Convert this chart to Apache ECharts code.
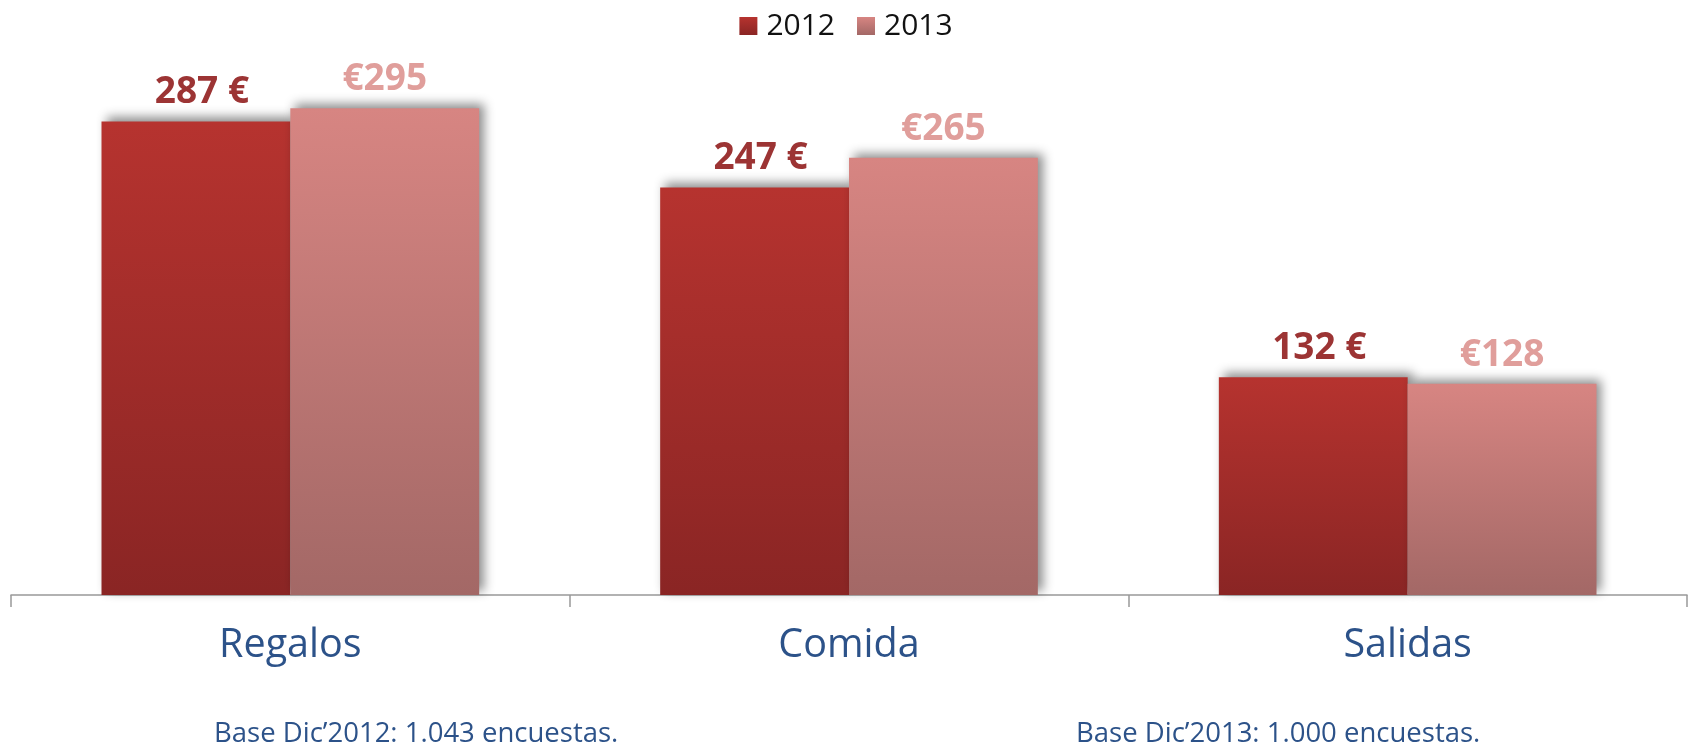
<!DOCTYPE html>
<html>
<head>
<meta charset="utf-8">
<script src="https://cdn.jsdelivr.net/npm/echarts@6/dist/echarts.min.js"></script>
<style>
  html, body { margin: 0; padding: 0; background: #fff; }
  #chart { width: 1692px; height: 746px; }
</style>
</head>
<body>
<div id="chart"></div>
<script>
// categories and values (euros per person)
const categories = ['Regalos', 'Comida', 'Salidas'];
const seriesNames = ['2012', '2013'];
const values2012 = [287, 247, 132];
const values2013 = [295, 265, 128];
const footnotes = ['Base Dic\u20192012: 1.043 encuestas.', 'Base Dic\u20192013: 1.000 encuestas.'];

const FONT = '"Open Sans", "Noto Sans", sans-serif';
const BLUE = '#2C5289';

function grad(top, bottom) {
    return new echarts.graphic.LinearGradient(0, 0, 0, 1, [
        { offset: 0, color: top },
        { offset: 1, color: bottom }
    ]);
}

const barShadow = {
    shadowColor: 'rgba(0,0,0,0.45)',
    shadowBlur: 10,
    shadowOffsetX: 5,
    shadowOffsetY: -4
};

const chart = echarts.init(document.getElementById('chart'), null, { renderer: 'canvas' });

const option = {
    animation: false,
    backgroundColor: '#ffffff',
    legend: {
        top: 6,
        left: 'center',
        itemWidth: 18,
        itemHeight: 18,
        itemGap: 22,
        icon: 'rect',
        textStyle: {
            fontFamily: FONT,
            fontSize: 30,
            color: '#111',
            padding: [0, 0, 0, 4]
        },
        data: seriesNames
    },
    grid: {
        left: 11,
        right: 5,
        top: 100,
        bottom: 151
    },
    xAxis: {
        type: 'category',
        data: categories,
        axisLine: { lineStyle: { color: '#999', width: 1.5 } },
        axisTick: { show: true, length: 12, lineStyle: { color: '#999', width: 1.5 } },
        axisLabel: {
            margin: 31,
            fontFamily: FONT,
            fontSize: 39.5,
            color: BLUE
        }
    },
    yAxis: {
        type: 'value',
        min: 0,
        max: 300,
        show: false,
        splitLine: { show: false }
    },
    series: [
        {
            name: seriesNames[0],
            type: 'bar',
            data: values2012,
            barGap: '0%',
            barCategoryGap: '32.4%',
            itemStyle: Object.assign({ color: grad('#B6332F', '#8A2524') }, barShadow),
            label: {
                show: true,
                position: 'top',
                distance: 10,
                offset: [6, 0],
                formatter: '{c} \u20ac',
                fontFamily: FONT,
                fontWeight: 'bold',
                fontSize: 37,
                color: '#9C3434'
            }
        },
        {
            name: seriesNames[1],
            type: 'bar',
            data: values2013,
            barGap: '0%',
            barCategoryGap: '32.4%',
            itemStyle: Object.assign({ color: grad('#D78582', '#A36866') }, barShadow),
            label: {
                show: true,
                position: 'top',
                distance: 10,
                formatter: '\u20ac{c}',
                fontFamily: FONT,
                fontWeight: 'bold',
                fontSize: 37,
                color: '#E09E9B'
            }
        }
    ],
    graphic: [
        {
            type: 'text',
            left: 214,
            top: 720,
            style: { text: footnotes[0], font: '27.5px ' + FONT, fill: BLUE }
        },
        {
            type: 'text',
            left: 1076,
            top: 720,
            style: { text: footnotes[1], font: '27.5px ' + FONT, fill: BLUE }
        }
    ]
};

chart.setOption(option);
</script>
</body>
</html>
